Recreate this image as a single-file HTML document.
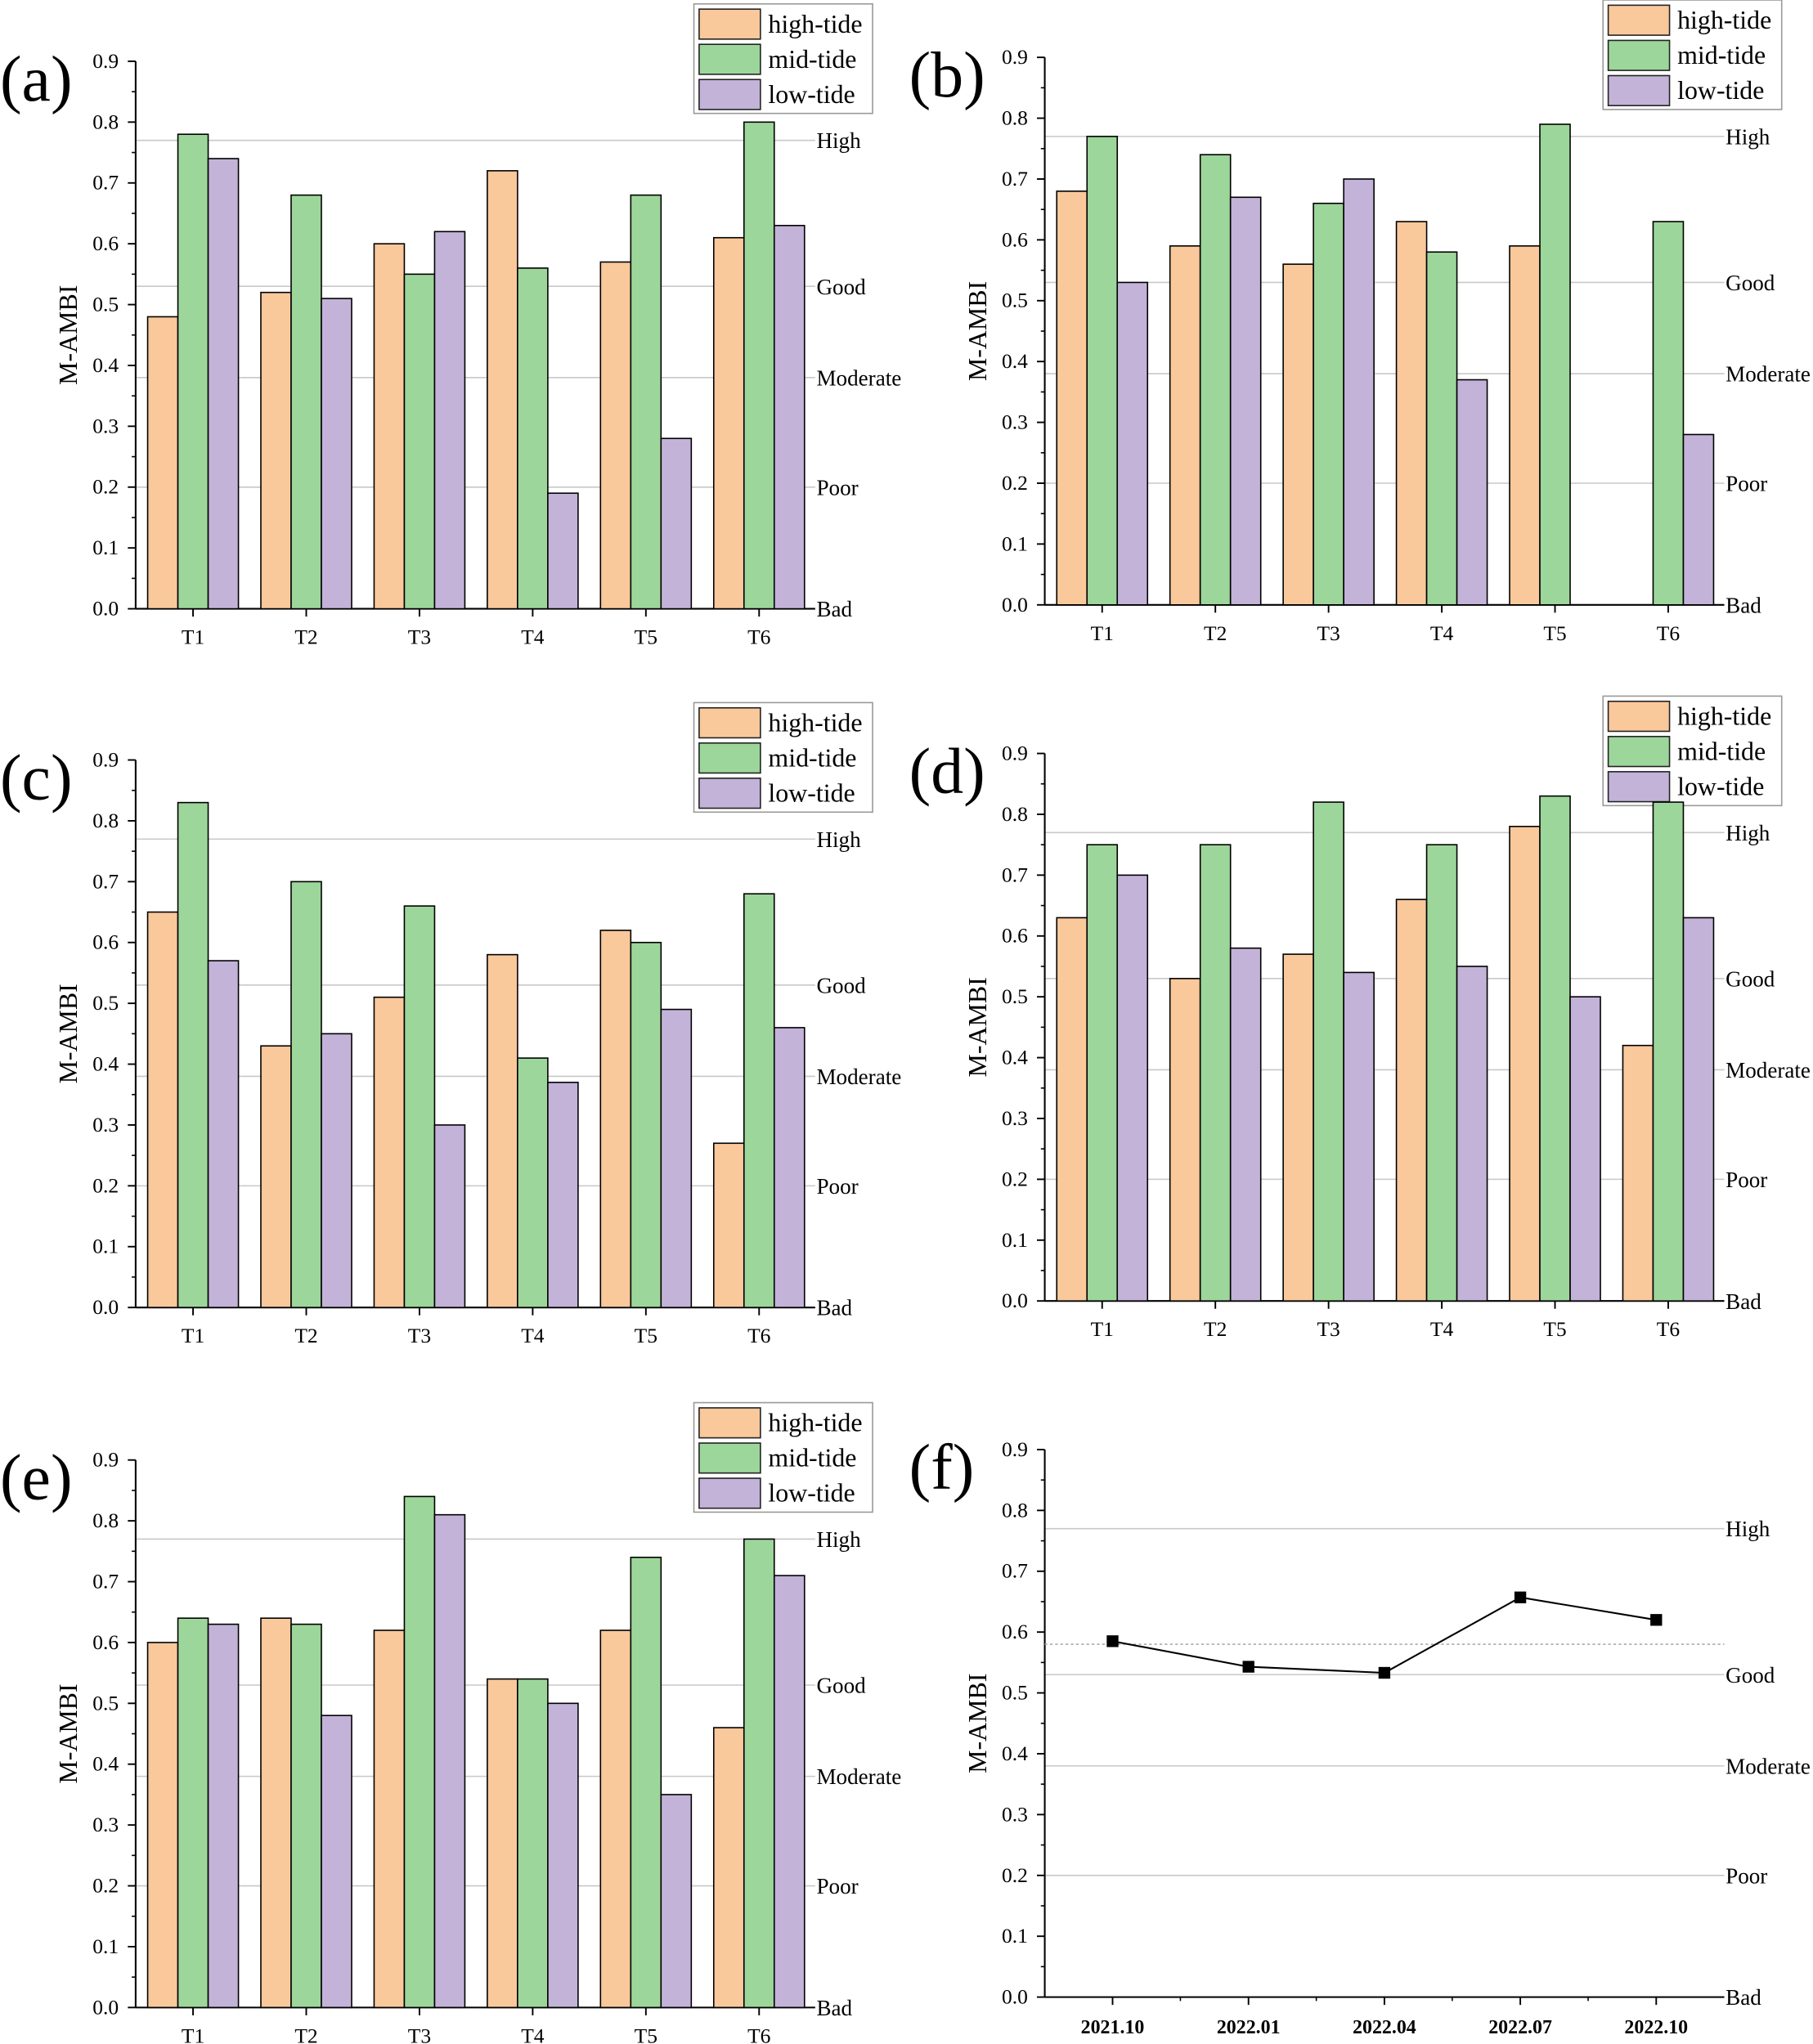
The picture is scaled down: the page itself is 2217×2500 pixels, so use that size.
<!DOCTYPE html>
<html><head><meta charset="utf-8"><style>
html,body{margin:0;padding:0;background:#fff}
svg{display:block}
text{font-family:"Liberation Serif",serif;fill:#000}
</style></head><body>
<svg id="fig" width="2217" height="2500" viewBox="0 0 1390 1568" preserveAspectRatio="none" xmlns="http://www.w3.org/2000/svg"></svg>
<script>
const categories=["T1","T2","T3","T4","T5","T6"];
const seriesNames=["high-tide","mid-tide","low-tide"];
const aHigh=[0.48,0.52,0.60,0.72,0.57,0.61];
const aMid=[0.78,0.68,0.55,0.56,0.68,0.80];
const aLow=[0.74,0.51,0.62,0.19,0.28,0.63];
const bHigh=[0.68,0.59,0.56,0.63,0.59,null];
const bMid=[0.77,0.74,0.66,0.58,0.79,0.63];
const bLow=[0.53,0.67,0.70,0.37,null,0.28];
const cHigh=[0.65,0.43,0.51,0.58,0.62,0.27];
const cMid=[0.83,0.70,0.66,0.41,0.60,0.68];
const cLow=[0.57,0.45,0.30,0.37,0.49,0.46];
const dHigh=[0.63,0.53,0.57,0.66,0.78,0.42];
const dMid=[0.75,0.75,0.82,0.75,0.83,0.82];
const dLow=[0.70,0.58,0.54,0.55,0.50,0.63];
const eHigh=[0.60,0.64,0.62,0.54,0.62,0.46];
const eMid=[0.64,0.63,0.84,0.54,0.74,0.77];
const eLow=[0.63,0.48,0.81,0.50,0.35,0.71];
const fDates=["2021.10","2022.01","2022.04","2022.07","2022.10"];
const fValues=[0.585,0.543,0.533,0.657,0.620];
const yTicks=[0,0.1,0.2,0.3,0.4,0.5,0.6,0.7,0.8,0.9];
const classNames=["High","Good","Moderate","Poor","Bad"];
const classValues=[0.77,0.53,0.38,0.2,0];
const fAverage=0.58;

const NS="http://www.w3.org/2000/svg";
const svg=document.getElementById('fig');
const colors=["#f9c89b","#9dd69a","#c3b3d9"];
function el(tag,attrs,parent,txt){const e=document.createElementNS(NS,tag);for(const k in attrs)e.setAttribute(k,attrs[k]);if(txt!==undefined)e.textContent=txt;(parent||svg).appendChild(e);return e;}

function axes(g,ox,y0,letter,legend,xs){
  const W=521,H=420;
  const ys=v=>y0-v/0.9*H;
  // class lines
  classValues.forEach((v,i)=>{
    if(v>0){const l=el('line',{x1:ox,x2:ox+W,y1:ys(v),y2:ys(v),stroke:'#c8c8c8','stroke-width':1},g);
    
    }
    const t=el('text',{x:ox+W+1,y:ys(v)+6,'font-size':17},g,classNames[i]);
    
    
  });
  // y axis
  el('line',{x1:ox,x2:ox,y1:y0,y2:ys(0.9),stroke:'#000','stroke-width':1.3},g);
  yTicks.forEach(v=>{
    el('line',{x1:ox-6,x2:ox,y1:ys(v),y2:ys(v),stroke:'#000','stroke-width':1.2},g);
    if(v<0.9)el('line',{x1:ox-3,x2:ox,y1:ys(v+0.05),y2:ys(v+0.05),stroke:'#000','stroke-width':1},g);
    const t=el('text',{x:ox-13,y:ys(v)+5,'font-size':16,'text-anchor':'end'},g,v.toFixed(1));
    
    
  });
  el('line',{x1:ox,x2:ox+W,y1:y0,y2:y0,stroke:'#000','stroke-width':1.3},g);
  const yt=el('text',{x:0,y:0,'font-size':20,'text-anchor':'middle',transform:`translate(${ox-45},${ys(0.45)}) rotate(-90)`},g,'M-AMBI');
  
  
  const pl=el('text',{x:ox-104,y:ys(0.9)+30,'font-size':50},g,'('+letter+')');
  
  
  if(legend){
    const lg=el('g',{},g);
    
    
    const lx=ox+428,ly=ys(0.9)-44;
    el('rect',{x:lx,y:ly,width:137,height:84,fill:'#fff',stroke:'#999','stroke-width':1},lg);
    seriesNames.forEach((n,i)=>{
      const e=el('g',{},lg);
      
      
      el('rect',{x:lx+4,y:ly+4+i*27,width:47,height:23,fill:colors[i],stroke:'#222','stroke-width':1},e);
      el('text',{x:lx+57,y:ly+22+i*27,'font-size':20},e,n);
    });
  }
  return ys;
}

function barPanel(letter,ox,y0,series,legend){
  const g=el('g',{});
  
  
  const step=86.8,bw=23.2;
  const xc=i=>ox+44+i*step;
  const ys=axes(g,ox,y0,letter,legend);
  categories.forEach((c,i)=>{
    el('line',{x1:xc(i),x2:xc(i),y1:y0,y2:y0+6,stroke:'#000','stroke-width':1.2},g);
    const t=el('text',{x:xc(i),y:y0+27,'font-size':16,'text-anchor':'middle'},g,c);
    
    
    series.forEach((s,j)=>{
      const v=s[i];if(v==null)return;
      const r=el('rect',{x:xc(i)+(j-1.5)*bw,y:ys(v),width:bw,height:y0-ys(v),fill:colors[j],stroke:'#000','stroke-width':1},g);
      
      
    });
  });
}
barPanel('a',104,467,[aHigh,aMid,aLow],true);
barPanel('b',801,464,[bHigh,bMid,bLow],true);
barPanel('c',104,1003,[cHigh,cMid,cLow],true);
barPanel('d',801,998,[dHigh,dMid,dLow],true);
barPanel('e',104,1540,[eHigh,eMid,eLow],true);

(function(){
  const g=el('g',{});
  
  
  const ox=801,y0=1532;
  const ys=axes(g,ox,y0,'f',false);
  const xc=i=>853+i*104.2;
  const al=el('line',{x1:ox,x2:ox+521,y1:ys(fAverage),y2:ys(fAverage),stroke:'#aaa','stroke-width':1,'stroke-dasharray':'2,2'},g);
  
  
  fDates.forEach((d,i)=>{
    el('line',{x1:xc(i),x2:xc(i),y1:y0,y2:y0+6,stroke:'#000','stroke-width':1.2},g);
    if(i<fDates.length-1)el('line',{x1:xc(i)+52,x2:xc(i)+52,y1:y0,y2:y0+3,stroke:'#000','stroke-width':1},g);
    const t=el('text',{x:xc(i),y:y0+28,'font-size':15,'font-weight':'bold','text-anchor':'middle'},g,d);
    
    
  });
  const p=el('polyline',{points:fValues.map((v,i)=>xc(i)+','+ys(v)).join(' '),fill:'none',stroke:'#000','stroke-width':1.3},g);
  
  
  fValues.forEach((v,i)=>{
    const m=el('rect',{x:xc(i)-4.5,y:ys(v)-4.5,width:9,height:9,fill:'#000'},g);
    
    
  });
})();
</script>
</body></html>
